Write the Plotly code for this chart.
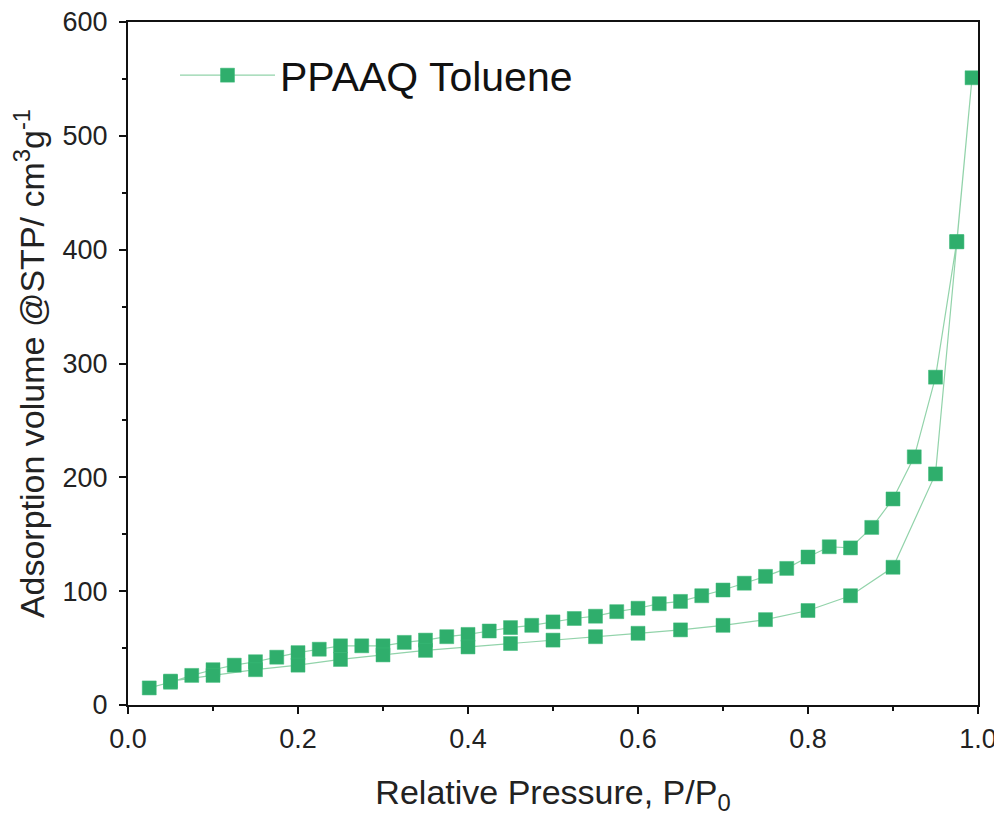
import plotly.graph_objects as go

# Upper branch (every 0.025 P/P0) up to the top point
x_upper = [0.025, 0.05, 0.075, 0.10, 0.125, 0.15, 0.175, 0.20, 0.225, 0.25,
           0.275, 0.30, 0.325, 0.35, 0.375, 0.40, 0.425, 0.45, 0.475, 0.50,
           0.525, 0.55, 0.575, 0.60, 0.625, 0.65, 0.675, 0.70, 0.725, 0.75,
           0.775, 0.80, 0.825, 0.85, 0.875, 0.90, 0.925, 0.95, 0.975, 0.993]
y_upper = [15, 20, 26, 31, 35, 38, 42, 46, 49, 52,
           52, 52, 55, 57, 60, 62, 65, 68, 70, 73,
           76, 78, 82, 85, 89, 91, 96, 101, 107, 113,
           120, 130, 139, 138, 156, 181, 218, 288, 407, 551]

# Lower branch (every 0.05 P/P0), descending back from the top
x_lower = [0.975, 0.95, 0.90, 0.85, 0.80, 0.75, 0.70, 0.65, 0.60, 0.55,
           0.50, 0.45, 0.40, 0.35, 0.30, 0.25, 0.20, 0.15, 0.10, 0.05]
y_lower = [407, 203, 121, 96, 83, 75, 70, 66, 63, 60,
           57, 54, 51, 48, 44, 40, 35, 31, 26, 21]

series_name = "PPAAQ Toluene"
x_ticks = [0.0, 0.2, 0.4, 0.6, 0.8, 1.0]
y_ticks = [0, 100, 200, 300, 400, 500, 600]

marker_color = "#2fae6c"
line_color = "#92d3aa"
font_family = "Liberation Sans, Arial, Helvetica, sans-serif"

fig = go.Figure()
fig.add_trace(go.Scatter(
    x=x_upper + x_lower,
    y=y_upper + y_lower,
    mode="lines+markers",
    name=series_name,
    line=dict(color=line_color, width=1.2),
    marker=dict(symbol="square", size=14, color=marker_color,
                line=dict(color="#3dbb78", width=0.5)),
    cliponaxis=False,
))

axis_common = dict(
    showline=True, linecolor="#111", linewidth=2, mirror=True,
    showgrid=False, zeroline=False, automargin=False,
    ticklabeloverflow="allow",
    ticks="outside", ticklen=7, tickwidth=1.5, tickcolor="#111",
    tickfont=dict(family=font_family, size=27, color="#222"),
)

fig.update_layout(
    width=994, height=808,
    margin=dict(l=120, r=24, t=14, b=111),
    paper_bgcolor="white", plot_bgcolor="white",
    font=dict(family=font_family, color="#222"),
    xaxis=dict(
        range=[0, 1], tickvals=x_ticks, ticktext=[f"{v:.1f}" for v in x_ticks],
        minor=dict(dtick=0.1, ticks="outside", ticklen=4, tickcolor="#111", tickwidth=1.5),
        title=dict(text="Relative Pressure, P/P<sub>0</sub>",
                   font=dict(family=font_family, size=34, color="#222"), standoff=27),
        ticklabelstandoff=2,
        **axis_common,
    ),
    yaxis=dict(
        range=[0, 600], tickvals=y_ticks,
        minor=dict(dtick=50, ticks="outside", ticklen=4, tickcolor="#111", tickwidth=1.5),
        title=dict(text="Adsorption volume @STP/ cm<sup>3</sup>g<sup>-1</sup>",
                   font=dict(family=font_family, size=34, color="#222"), standoff=10),
        ticklabelstandoff=6,
        **axis_common,
    ),
    legend=dict(
        x=0.0553, y=0.9707, xanchor="left", yanchor="top",
        bgcolor="rgba(0,0,0,0)",
        font=dict(family=font_family, size=41, color="#111"),
        itemwidth=95,
    ),
    showlegend=True,
)

fig.write_html("out.html")
